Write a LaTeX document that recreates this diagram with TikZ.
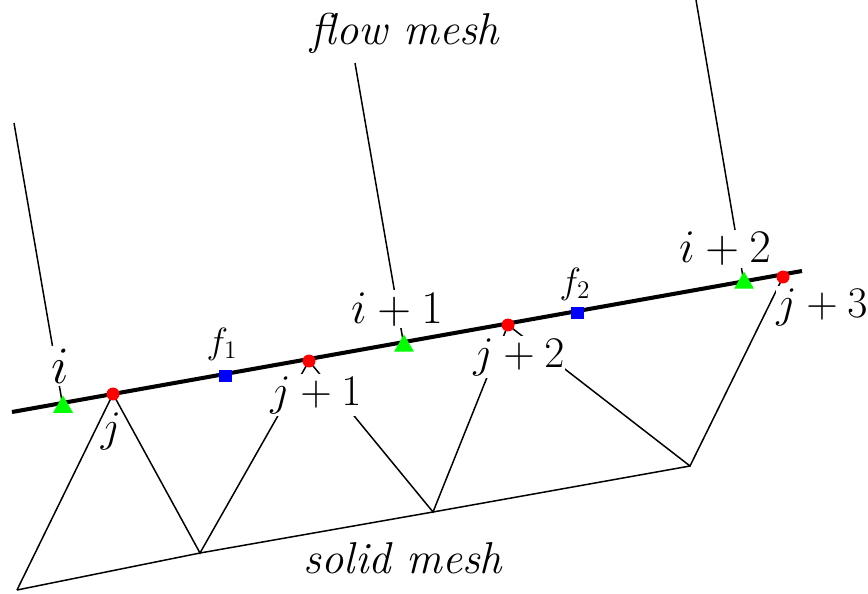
\documentclass[tikz,border=0pt]{standalone}
\usepackage{tikz}
\usetikzlibrary{shapes.geometric,backgrounds}
\definecolor{solidred}{RGB}{255,0,0}
\definecolor{flowgreen}{RGB}{0,255,0}
\definecolor{faceblue}{RGB}{0,0,255}
\tikzset{
  solidpt/.style={circle,fill=solidred,minimum size=0.26cm,inner sep=0pt},
  flowpt/.style={regular polygon,regular polygon sides=3,fill=flowgreen,minimum size=0.46cm,inner sep=0pt},
  facept/.style={rectangle,fill=faceblue,minimum size=0.26cm,inner sep=0pt},
  ptlabel/.style={fill=white,inner xsep=0pt,inner ysep=1.2pt,anchor=base,font=\Huge},
  facelabel/.style={inner sep=0pt,font=\huge},
  meshlabel/.style={inner sep=0pt,scale=1.02,font=\Huge\itshape},
  meshline/.style={line width=0.85pt,line join=miter},
  interface/.style={line width=2.3pt}
}
\begin{document}
\begin{tikzpicture}[x=0.02cm,y=-0.02cm]
  \useasboundingbox (0,0) rectangle (868,594);
  % interface points
  \node[flowpt] (i0) at (63,407) {};
  \node[flowpt] (i1) at (404,346) {};
  \node[flowpt] (i2) at (744,283) {};
  \node[solidpt] (j0) at (113,394) {};
  \node[solidpt] (j1) at (309,361) {};
  \node[solidpt] (j2) at (508,325) {};
  \node[solidpt] (j3) at (783,277) {};
  \node[facept] (f1) at (225,376) {};
  \node[facept] (f2) at (577,313) {};
  % free ends
  \coordinate (left) at (12,412);
  \coordinate (right) at (802,271);
  \coordinate (a0) at (14,123);
  \coordinate (a1) at (355,63);
  \coordinate (a2) at (696,0);
  \coordinate (b0) at (17,590);
  \coordinate (b1) at (200,553);
  \coordinate (b2) at (433,512);
  \coordinate (b3) at (690,466);
  % labels
  \node[ptlabel,scale=1.2] (li0) at (60,383) {$i$};
  \node[ptlabel,scale=1.07] (li1) at (397,323) {$i+1$};
  \node[ptlabel,scale=1.07] (li2) at (725,263) {$i+2$};
  \node[ptlabel,fill=none] (lj0) at (111,441) {$j$};
  \node[ptlabel] (lj1) at (316,405) {$j+1$};
  \node[ptlabel] (lj2) at (519,367) {$j+2$};
  \node[ptlabel] (lj3) at (822,317) {$j+3$};
  \node[facelabel] (lf1) at (222,344) {$f_1$};
  \node[facelabel] (lf2) at (575,284) {$f_2$};
  \node[meshlabel] (flow) at (405,33) {flow mesh};
  \node[meshlabel] (solid) at (403,558) {solid mesh};
  \begin{pgfonlayer}{background}
    \draw[meshline] (a0) -- (i0.center);
    \draw[meshline] (a1) -- (i1.center);
    \draw[meshline] (a2) -- (i2.center);
    \draw[meshline] (b0) -- (j0.center) -- (b1) -- (j1.center) -- (b2) -- (j2.center) -- (b3) -- (j3.center);
    \draw[meshline] (b0) -- (b1) -- (b2) -- (b3);
    \draw[interface] (left) -- (right);
  \end{pgfonlayer}
\end{tikzpicture}
\end{document}
